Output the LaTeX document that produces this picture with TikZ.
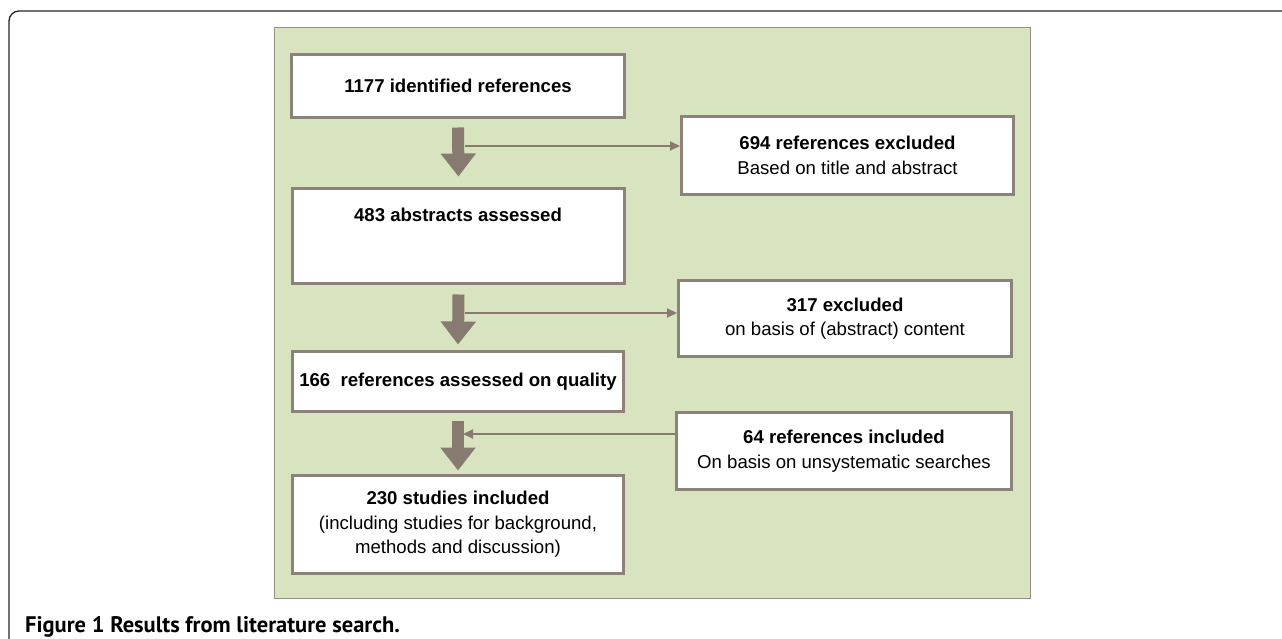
\documentclass[tikz,border=0pt]{standalone}
\usepackage{fontspec}
\setmainfont{Liberation Sans}
\newfontfamily\capfont{PT Sans}
\usetikzlibrary{arrows.meta}
\definecolor{panelgreen}{RGB}{216,228,191}
\definecolor{panelline}{RGB}{150,144,132}
\definecolor{boxline}{RGB}{140,130,121}
\definecolor{arrowc}{RGB}{135,122,113}
\begin{document}
\begin{tikzpicture}[x=1pt,y=-1pt,
  box/.style={draw=boxline, line width=3pt, fill=white, inner sep=0pt, align=center,
    font=\fontsize{18.6}{24.5}\selectfont},
  boxtext/.style={inner sep=0pt, font=\fontsize{18.6}{24.5}\selectfont\bfseries},
  bigarrow/.style={draw=arrowc, line width=12pt, -{Triangle[width=34pt,length=23pt]}},
  thinarrow/.style={draw=arrowc, line width=2pt, -{Triangle[width=9pt,length=10pt]}},
]
\useasboundingbox (0,0) rectangle (1282,639);
\fill[white] (0,0) rectangle (1282,639);
% outer frame
\draw[line width=1.3pt, black!85, rounded corners=10pt] (1283,11) -- (9,11) -- (9,640);
% green panel
\draw[fill=panelgreen, draw=panelline, line width=1pt] (274,28) rectangle (1030,598);

% left column boxes
\node[box, minimum width=333, minimum height=63] (b1) at (458,86)
  {\textbf{1177 identified references}};
\node[box, minimum width=332, minimum height=95] (b2) at (458.5,236) {};
\node[boxtext, anchor=base] (t2) at (458,221.5) {483 abstracts assessed};
\node[box, minimum width=331, minimum height=60] (b3) at (458,381.5)
  {\textbf{166\ \ references assessed on quality}};
\node[box, minimum width=331, minimum height=98] (b4) at (458,524.5)
  {\textbf{230 studies included}\\(including studies for background,\\methods and discussion)};

% right column boxes
\node[box, minimum width=332, minimum height=78] (x1) at (847.5,155.5)
  {\textbf{694 references excluded}\\Based on title and abstract};
\node[box, minimum width=333, minimum height=76] (x2) at (845,318.5)
  {\textbf{317 excluded}\\on basis of (abstract) content};
\node[box, minimum width=335, minimum height=77] (x3) at (844,451)
  {\textbf{64 references included}\\On basis on unsystematic searches};

% big down arrows
\draw[bigarrow] ([yshift=-8.5pt]b1.south) -- ([yshift=10.5pt]b2.north);
\draw[bigarrow] ([yshift=-9.5pt]b2.south) -- ([yshift=5.5pt]b3.north);
\draw[bigarrow] ([yshift=-7.5pt]b3.south) -- ([yshift=3.5pt]b4.north);

% side arrows
\coordinate (s1) at (465,146);
\coordinate (s2) at (465,313);
\coordinate (s3) at (463,434);
\draw[thinarrow] (s1) -- (x1.west |- s1);
\draw[thinarrow] (s2) -- (x2.west |- s2);
\draw[thinarrow] (x3.west |- s3) -- (s3);

% caption
\node[anchor=base west, inner sep=0pt, font=\capfont\bfseries\fontsize{22.5}{26}\selectfont] (cap) at (25,632)
  {Figure 1 Results from literature search.};
\end{tikzpicture}
\end{document}
